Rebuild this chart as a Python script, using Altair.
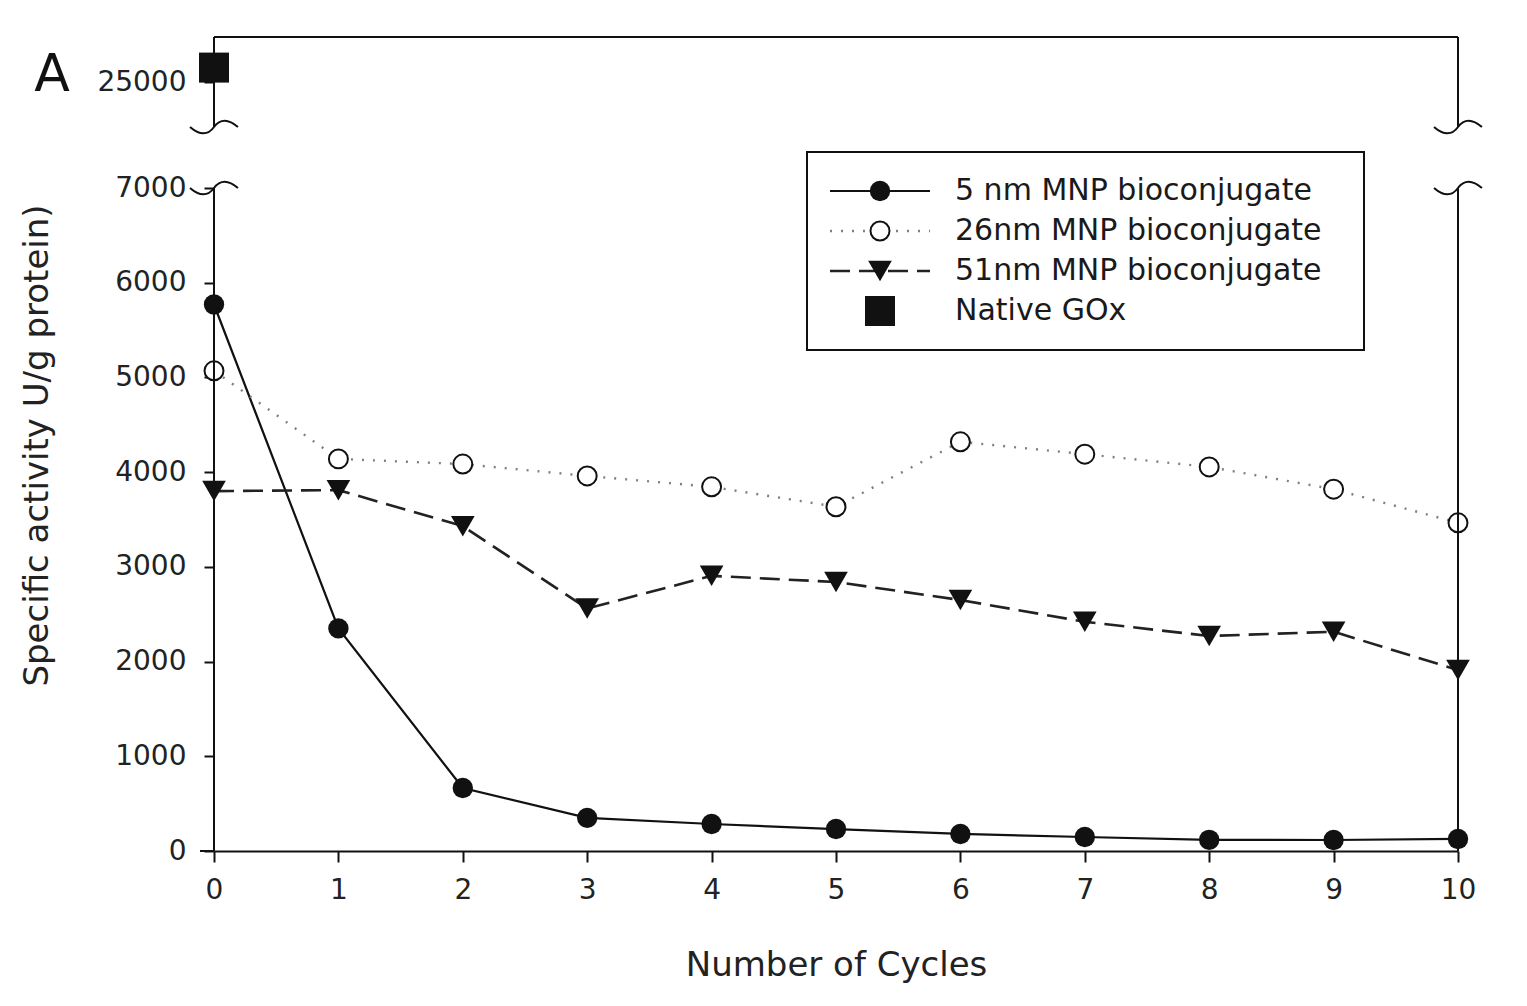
import altair as alt
import pandas as pd

# ---- data ----
cycles = [0, 1, 2, 3, 4, 5, 6, 7, 8, 9, 10]
mnp5 = [5770, 2350, 665, 350, 285, 232, 180, 148, 118, 116, 127]
mnp26 = [5070, 4140, 4085, 3960, 3845, 3635, 4320, 4190, 4055, 3820, 3465]
mnp51 = [3800, 3810, 3430, 2560, 2905, 2840, 2650, 2420, 2270, 2315, 1910]
native_cycle = [0]
native_gox = [25320]
series_names = ["5 nm MNP bioconjugate", "26nm MNP bioconjugate",
                "51nm MNP bioconjugate", "Native GOx"]
y_ticks = [0, 1000, 2000, 3000, 4000, 5000, 6000, 7000, 25000]
x_ticks = cycles
# broken axis: lower segment 0-7000, upper segment 24000-26000
y_break_domain = [0, 7000, 24000, 26000]

W, H = 1244, 814
y_range = [H, H - 663, 90, 0]

FONT = "DejaVu Sans"
INK = "#111111"

df5 = pd.DataFrame({"cycle": cycles, "activity": mnp5})
df26 = pd.DataFrame({"cycle": cycles, "activity": mnp26})
df51 = pd.DataFrame({"cycle": cycles, "activity": mnp51})
dfn = pd.DataFrame({"cycle": native_cycle, "activity": native_gox})
one = pd.DataFrame({"k": [0]})

xscale = alt.Scale(domain=[0, 10], nice=False, zero=False)
yscale = alt.Scale(domain=y_break_domain, range=y_range, nice=False, zero=False)

xaxis = alt.Axis(values=x_ticks, format="d", grid=False, tickSize=11, tickWidth=2,
                 tickColor=INK, domainColor=INK, domainWidth=2, labelFlush=False,
                 labelFont=FONT, labelFontSize=28, labelColor="#222", labelPadding=14,
                 title="Number of Cycles", titleFont=FONT, titleFontSize=34,
                 titleFontWeight="normal", titleColor="#222", titleY=114,
                 titleBaseline="middle")
yaxis = alt.Axis(values=y_ticks, format="d", grid=False, domain=False, tickSize=10,
                 tickWidth=2, tickColor=INK, labelFont=FONT, labelFontSize=28,
                 labelColor="#222", labelPadding=18, labelFlush=False,
                 title="Specific activity U/g protein)", titleFont=FONT,
                 titleFontSize=34, titleFontWeight="normal", titleColor="#222",
                 titleX=-177, titleY=408, titleAngle=270, titleAlign="center",
                 titleBaseline="middle")

X = alt.X("cycle:Q", scale=xscale, axis=xaxis, title="Number of Cycles")
Y = alt.Y("activity:Q", scale=yscale, axis=yaxis, title="Specific activity U/g protein)")

# ---- series lines ----
line5 = alt.Chart(df5).mark_line(color=INK, strokeWidth=2.2).encode(x=X, y=Y)
line26 = alt.Chart(df26).mark_line(color="#808080", strokeWidth=2.4,
                                   strokeDash=[2, 9]).encode(x=X, y=Y)
line51 = alt.Chart(df51).mark_line(color="#222", strokeWidth=2.6,
                                   strokeDash=[20, 9]).encode(x=X, y=Y)

pt5 = alt.Chart(df5).mark_point(shape="circle", filled=True, fill=INK, color=INK,
                                size=415, opacity=1).encode(x=X, y=Y)
pt26 = alt.Chart(df26).mark_point(shape="circle", filled=False, fill="white",
                                  stroke=INK, strokeWidth=2, size=360,
                                  opacity=1).encode(x=X, y=Y)
pt51 = alt.Chart(df51).mark_point(shape="triangle-down", filled=True, fill=INK,
                                  color=INK, size=560, opacity=1).encode(x=X, y=Y)
ptn = alt.Chart(dfn).mark_point(shape="square", filled=True, fill=INK, color=INK,
                                size=900, opacity=1).encode(x=X, y=Y)

# ---- frame of the broken axis ----
frame = []
for xv in [0, 10]:
    frame.append(alt.Chart(one).mark_rule(color=INK, strokeWidth=2).encode(
        x=alt.datum(xv), y=alt.datum(24000), y2=alt.datum(26000)))
    frame.append(alt.Chart(one).mark_rule(color=INK, strokeWidth=2).encode(
        x=alt.datum(xv), y=alt.datum(0), y2=alt.datum(7000)))
frame.append(alt.Chart(one).mark_rule(color=INK, strokeWidth=2).encode(
    x=alt.datum(0), x2=alt.datum(10), y=alt.datum(26000)))
# x axis line runs a little past the y axis on the left
frame.append(alt.Chart(one).mark_rule(color=INK, strokeWidth=2).encode(
    x=alt.value(-14), x2=alt.value(0), y=alt.datum(0)))

squiggle = "M-1,0C-0.6,0.35,-0.25,0.35,0,0C0.25,-0.35,0.6,-0.35,1,0"
for xv in [0, 10]:
    for yv in [24000, 7000]:
        frame.append(alt.Chart(one).mark_point(shape=squiggle, filled=False,
                                               stroke=INK, strokeWidth=2, size=2300,
                                               opacity=1).encode(
            x=alt.datum(xv), y=alt.datum(yv)))

# ---- legend (drawn by hand) ----
leg = []
leg.append(alt.Chart(one).mark_rect(fill="white", stroke=INK, strokeWidth=2).encode(
    x=alt.value(593), x2=alt.value(1150), y=alt.value(115), y2=alt.value(313)))
row_y = [154, 194, 234, 274]
line_styles = [
    dict(color=INK, strokeWidth=2.2),
    dict(color="#808080", strokeWidth=2.4, strokeDash=[2, 9]),
    dict(color="#222", strokeWidth=2.6, strokeDash=[20, 9]),
]
for i, st in enumerate(line_styles):
    leg.append(alt.Chart(one).mark_rule(**st).encode(
        x=alt.value(616), x2=alt.value(716), y=alt.value(row_y[i])))
pt_styles = [
    dict(shape="circle", filled=True, fill=INK, color=INK, size=415),
    dict(shape="circle", filled=False, fill="white", stroke=INK, strokeWidth=2, size=360),
    dict(shape="triangle-down", filled=True, fill=INK, color=INK, size=560),
    dict(shape="square", filled=True, fill=INK, color=INK, size=900),
]
for i, st in enumerate(pt_styles):
    leg.append(alt.Chart(one).mark_point(opacity=1, **st).encode(
        x=alt.value(666), y=alt.value(row_y[i])))
for i, name in enumerate(series_names):
    leg.append(alt.Chart(pd.DataFrame({"t": [name]})).mark_text(
        align="left", baseline="middle", font=FONT, fontSize=30, color="#1a1a1a").encode(
        x=alt.value(741), y=alt.value(row_y[i]), text="t:N"))

panel = alt.Chart(pd.DataFrame({"t": ["A"]})).mark_text(
    align="center", baseline="middle", font=FONT, fontSize=52, color="#111").encode(
    x=alt.value(-162), y=alt.value(38), text="t:N")

chart = alt.layer(
    line5, line26, line51, pt26, pt51, pt5, ptn, *frame, *leg, panel
).properties(
    width=W, height=H,
    padding={"left": 206, "top": 29, "right": 60, "bottom": 140},
    autosize=alt.AutoSizeParams(type="none"),
    background="white",
).configure_view(stroke=None)

chart.save("out.html", embed_options={"renderer": "svg", "actions": False})
